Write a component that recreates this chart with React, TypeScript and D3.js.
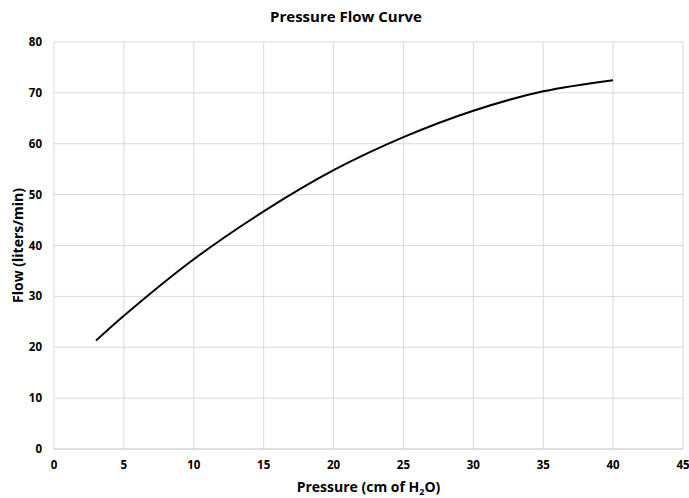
import React from 'react'
import * as d3 from 'd3'

// readings taken from the reference curve
const pressure = [3, 5, 10, 15, 20, 25, 30, 35, 40]
const flow = [21.3, 26.2, 37.3, 46.7, 54.8, 61.3, 66.5, 70.3, 72.5]

const xTicks = [0, 5, 10, 15, 20, 25, 30, 35, 40, 45]
const yTicks = [0, 10, 20, 30, 40, 50, 60, 70, 80]

const width = 689
const height = 498
const margin = { top: 42, right: 6, bottom: 49, left: 54 }
const font = 'Open Sans, sans-serif'

const App: React.FC = () => {
  const xScale = d3.scaleLinear().domain([0, 45]).range([margin.left, width - margin.right])
  const yScale = d3.scaleLinear().domain([0, 80]).range([height - margin.bottom, margin.top])

  const points = pressure.map((p, i) => [p, flow[i]] as [number, number])
  const line = d3
    .line<[number, number]>()
    .x(d => xScale(d[0]))
    .y(d => yScale(d[1]))
    .curve(d3.curveCatmullRom.alpha(0.5))

  const plotMidX = (xScale(0) + xScale(45)) / 2
  const plotMidY = (yScale(0) + yScale(80)) / 2

  return (
    <svg
      width={width}
      height={height}
      style={{ position: 'absolute', left: 0, top: 0, background: '#fff' }}
      fontFamily={font}
    >
      <rect width={width} height={height} fill="#fff" />
      <text x={346} y={22} textAnchor="middle" fontSize={15} fontWeight="bold" fill="#000">
        Pressure Flow Curve
      </text>

      {xTicks.map(t => (
        <line
          key={`gx${t}`}
          x1={xScale(t)}
          x2={xScale(t)}
          y1={yScale(0)}
          y2={yScale(80)}
          stroke="#d9d9d9"
          strokeWidth={1}
        />
      ))}
      {yTicks.map(t => (
        <line
          key={`gy${t}`}
          x1={xScale(0)}
          x2={xScale(45)}
          y1={yScale(t)}
          y2={yScale(t)}
          stroke={t === 0 ? '#bfbfbf' : '#d9d9d9'}
          strokeWidth={1}
        />
      ))}

      {xTicks.map(t => (
        <text
          key={`tx${t}`}
          x={xScale(t)}
          y={yScale(0) + 20}
          textAnchor="middle"
          fontSize={11.5}
          fontWeight="bold"
          fill="#000"
        >
          {t}
        </text>
      ))}
      {yTicks.map(t => (
        <text
          key={`ty${t}`}
          x={xScale(0) - 12}
          y={yScale(t) + 4}
          textAnchor="end"
          fontSize={11.5}
          fontWeight="bold"
          fill="#000"
        >
          {t}
        </text>
      ))}

      <path d={line(points) || ''} fill="none" stroke="#000" strokeWidth={2} />

      <text x={plotMidX} y={492} textAnchor="middle" fontSize={14} fontWeight="bold" fill="#000">
        Pressure (cm of H<tspan fontSize={9} dy={3}>2</tspan>
        <tspan dy={-3}>O)</tspan>
      </text>
      <text
        transform={`translate(23, ${plotMidY}) rotate(-90)`}
        textAnchor="middle"
        fontSize={14}
        fontWeight="bold"
        fill="#000"
      >
        Flow (liters/min)
      </text>
    </svg>
  )
}

export default App
